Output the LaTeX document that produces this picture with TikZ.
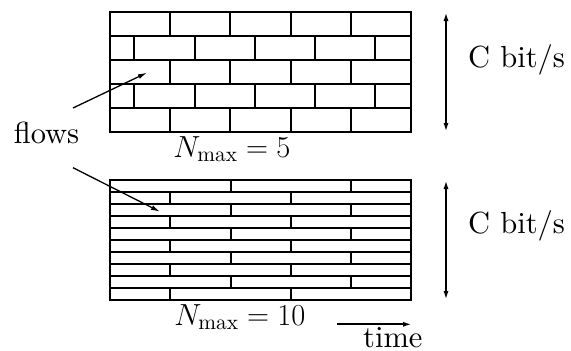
\documentclass[tikz,border=0pt]{standalone}
\usepackage{fix-cm}
\usepackage{fontspec}
\setmainfont{lmroman10-regular.otf}
\usetikzlibrary{arrows.meta}
\tikzset{
  wall/.style={line width=2pt},
  arr/.style={line width=1.3pt,-{Latex[length=9pt,width=5pt]}},
  dbl/.style={line width=1.8pt,{Latex[length=9pt,width=5pt]}-{Latex[length=9pt,width=5pt]}},
  lbl/.style={inner sep=0pt,font=\fontsize{30.5}{36}\selectfont},
}
\begin{document}
\begin{tikzpicture}[x=1pt,y=-1pt]
\useasboundingbox (0,0) rectangle (571,351);
% top wall
\draw[wall] (110,12) rectangle (411,132);
\foreach \y in {36,60,84,108} \draw[wall] (110,\y) -- (411,\y);
\foreach \y in {12,60,108} \foreach \x in {170.2,230.4,290.6,350.8} \draw[wall] (\x,\y) -- (\x,\y+24);
\foreach \y in {36,84} \foreach \x in {134.3,194.5,254.7,314.9,375.1} \draw[wall] (\x,\y) -- (\x,\y+24);
% bottom wall
\draw[wall] (110,180) rectangle (411,300);
\foreach \i in {1,...,9} \draw[wall] (110,180+12*\i) -- (411,180+12*\i);
\foreach \y in {180,204,228,252,276} \foreach \x in {230.6,350.8} \draw[wall] (\x,\y) -- (\x,\y+12);
\foreach \y in {192,216,240,264,288} \foreach \x in {170.2,290.6} \draw[wall] (\x,\y) -- (\x,\y+12);
% labels
\node[lbl,anchor=base] (flows) at (46.5,143) {flows};
\node[lbl,anchor=base] (n5) at (232,157) {$N_{\max}=5$};
\node[lbl,anchor=base] (n10) at (240,325) {$N_{\max}=10$};
\node[lbl,anchor=base west] (c1) at (468,67) {C bit/s};
\node[lbl,anchor=base west] (c2) at (468,233) {C bit/s};
\node[lbl,anchor=base west] (time) at (363,347.5) {time};
% arrows
\coordinate (f1s) at (73,108);
\coordinate (f1e) at (147,72.7);
\coordinate (f2s) at (73,167.7);
\coordinate (f2e) at (160,211.7);
\draw[arr] (f1s) -- (f1e);
\draw[arr] (f2s) -- (f2e);
\coordinate (v1t) at (446,12);
\coordinate (v1b) at (446,132);
\coordinate (v2t) at (446,180);
\coordinate (v2b) at (446,300);
\draw[dbl] (v1t) -- (v1b);
\draw[dbl] (v2t) -- (v2b);
\coordinate (t1) at (337,324.3);
\coordinate (t2) at (412,324.3);
\draw[line width=2pt,-{Latex[length=9pt,width=5pt]}] (t1) -- (t2);
\end{tikzpicture}
\end{document}
